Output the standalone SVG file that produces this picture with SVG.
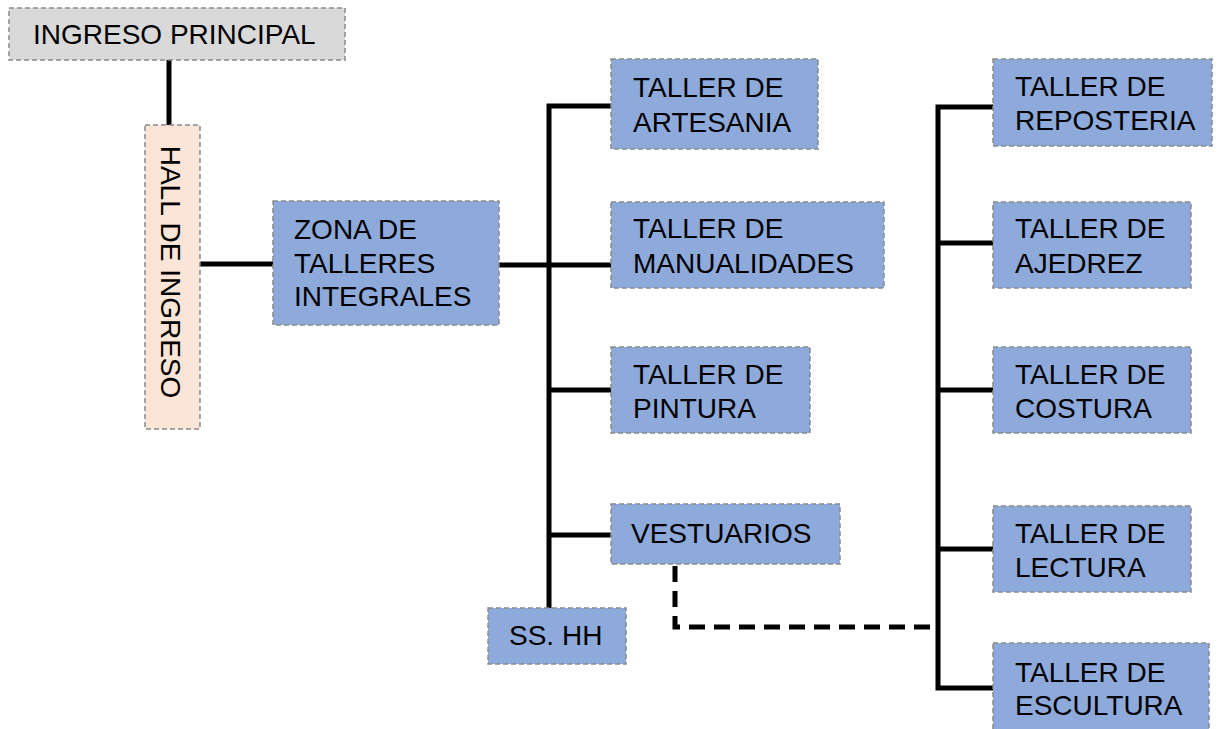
<svg xmlns="http://www.w3.org/2000/svg" width="1220" height="729" viewBox="0 0 1220 729">
<style>
.box{stroke:#8a8a8a;stroke-width:1.5;stroke-dasharray:5,3}
.blue{fill:#8eaadb}
.t{font-family:"Liberation Sans",Arial,sans-serif;font-size:28px;fill:#000}
.c{stroke:#000;stroke-width:5;fill:none}
.d{stroke:#000;stroke-width:5;fill:none;stroke-dasharray:16,9}
</style>
<rect width="1220" height="729" fill="#fff"/>
<g id="connectors">
<line class="c" x1="169" y1="60" x2="169" y2="125"/>
<line class="c" x1="200" y1="264" x2="273" y2="264"/>
<line class="c" x1="499" y1="265" x2="611" y2="265"/>
<polyline class="c" points="611,106 549,106 549,608"/>
<line class="c" x1="549" y1="390" x2="611" y2="390"/>
<line class="c" x1="549" y1="535" x2="611" y2="535"/>
<polyline class="c" points="993,107 938,107 938,688 993,688"/>
<line class="c" x1="938" y1="243" x2="993" y2="243"/>
<line class="c" x1="938" y1="390" x2="993" y2="390"/>
<line class="c" x1="938" y1="549" x2="993" y2="549"/>
<polyline class="d" points="675,566 675,627 936,627"/>
</g>
<g id="ingreso-principal">
<rect class="box" x="9" y="8" width="336" height="52" fill="#d9d9d9"/>
<text class="t" x="33" y="44">INGRESO PRINCIPAL</text>
</g>
<g id="hall-de-ingreso">
<rect class="box" x="145" y="125" width="55" height="304" fill="#fbe5d6"/>
<text class="t" text-anchor="middle" transform="translate(161,272) rotate(90)">HALL DE INGRESO</text>
</g>
<g id="zona-talleres">
<rect class="box blue" x="273" y="201" width="226" height="124"/>
<text class="t" x="294" y="239">ZONA DE</text>
<text class="t" x="294" y="273">TALLERES</text>
<text class="t" x="294" y="306">INTEGRALES</text>
</g>
<g id="artesania">
<rect class="box blue" x="611" y="59" width="207" height="90"/>
<text class="t" x="633" y="97">TALLER DE</text>
<text class="t" x="633" y="132">ARTESANIA</text>
</g>
<g id="manualidades">
<rect class="box blue" x="611" y="202" width="273" height="86"/>
<text class="t" x="633" y="238">TALLER DE</text>
<text class="t" x="633" y="273">MANUALIDADES</text>
</g>
<g id="pintura">
<rect class="box blue" x="611" y="347" width="199" height="86"/>
<text class="t" x="633" y="384">TALLER DE</text>
<text class="t" x="633" y="418">PINTURA</text>
</g>
<g id="vestuarios">
<rect class="box blue" x="611" y="504" width="229" height="60"/>
<text class="t" x="631" y="543">VESTUARIOS</text>
</g>
<g id="sshh">
<rect class="box blue" x="488" y="608" width="138" height="56"/>
<text class="t" x="509" y="645">SS. HH</text>
</g>
<g id="reposteria">
<rect class="box blue" x="993" y="59" width="219" height="87"/>
<text class="t" x="1015" y="96">TALLER DE</text>
<text class="t" x="1015" y="130">REPOSTERIA</text>
</g>
<g id="ajedrez">
<rect class="box blue" x="993" y="202" width="198" height="86"/>
<text class="t" x="1015" y="238">TALLER DE</text>
<text class="t" x="1015" y="273">AJEDREZ</text>
</g>
<g id="costura">
<rect class="box blue" x="993" y="347" width="198" height="86"/>
<text class="t" x="1015" y="384">TALLER DE</text>
<text class="t" x="1015" y="418">COSTURA</text>
</g>
<g id="lectura">
<rect class="box blue" x="993" y="506" width="198" height="86"/>
<text class="t" x="1015" y="543">TALLER DE</text>
<text class="t" x="1015" y="577">LECTURA</text>
</g>
<g id="escultura">
<rect class="box blue" x="993" y="643" width="216" height="95"/>
<text class="t" x="1015" y="682">TALLER DE</text>
<text class="t" x="1015" y="715">ESCULTURA</text>
</g>
</svg>
